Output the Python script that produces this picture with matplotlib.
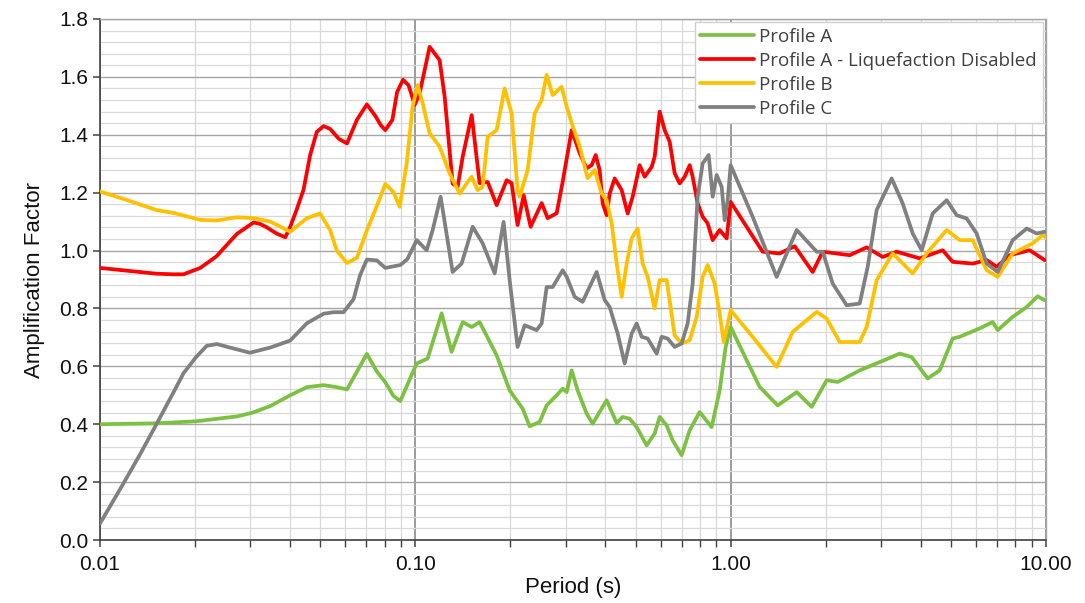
import matplotlib
matplotlib.use("Agg")
import matplotlib.pyplot as plt
from matplotlib.ticker import FixedLocator, FixedFormatter, LogLocator, MultipleLocator, NullFormatter

# ---------------- data ----------------
period_a = [0.01, 0.015, 0.0201, 0.0272, 0.0305, 0.0347, 0.0401, 0.0453, 0.0512, 0.0564, 0.0607, 0.0653, 0.0702,
            0.0755, 0.0803, 0.0852, 0.0896, 0.0952, 0.1010, 0.1094, 0.1212, 0.1303, 0.1413, 0.1509, 0.1599, 0.1811,
            0.1991, 0.2189, 0.2304, 0.2479, 0.2609, 0.2807, 0.2933, 0.3020, 0.3132, 0.3271, 0.3493, 0.3651,
            0.4043, 0.4350, 0.4545, 0.4784, 0.5034, 0.5415, 0.5741, 0.5954, 0.6266, 0.6547, 0.6992, 0.7413,
            0.7974, 0.8703, 0.9228, 0.9642, 1.0, 1.124, 1.236, 1.409, 1.620, 1.807, 2.016, 2.185, 2.566,
            3.034, 3.436, 3.751, 4.215, 4.601, 5.059, 5.324, 6.160, 6.776, 7.029, 7.842, 8.686, 9.413, 9.905]
amp_a = [0.40, 0.403, 0.41, 0.427, 0.44, 0.463, 0.50, 0.528, 0.535, 0.528, 0.52, 0.582, 0.643,
         0.582, 0.545, 0.498, 0.48, 0.546, 0.61, 0.627, 0.783, 0.65, 0.753, 0.736, 0.753, 0.638,
         0.517, 0.454, 0.393, 0.408, 0.465, 0.50, 0.523, 0.511, 0.586, 0.517, 0.437, 0.402,
         0.483, 0.404, 0.425, 0.419, 0.39, 0.327, 0.368, 0.425, 0.396, 0.344, 0.293, 0.379,
         0.442, 0.39, 0.517, 0.667, 0.736, 0.621, 0.529, 0.465, 0.511, 0.46, 0.552, 0.546, 0.586,
         0.619, 0.644, 0.632, 0.558, 0.586, 0.696, 0.702, 0.731, 0.753, 0.725, 0.771, 0.805, 0.842, 0.828]

period_a_noliq = [0.01, 0.0151, 0.0171, 0.0184, 0.0208, 0.0234, 0.0272, 0.0307, 0.0322, 0.0338, 0.0364, 0.0387,
                  0.0401, 0.042, 0.0442, 0.0464, 0.0487, 0.0512, 0.0537, 0.0572, 0.0607, 0.0653,
                  0.0702, 0.0748, 0.0776, 0.0803, 0.0846, 0.0875, 0.0914, 0.0952, 0.0995, 0.1032, 0.1110, 0.1194,
                  0.1239, 0.1313, 0.1362, 0.1413,
                  0.1509, 0.1599, 0.1696, 0.1811, 0.1948, 0.2020, 0.2110, 0.2206, 0.2321, 0.2515, 0.2628,
                  0.2807, 0.2933, 0.3132, 0.3319, 0.3493, 0.3624, 0.3732, 0.3842, 0.3927, 0.4043, 0.4133,
                  0.4287, 0.4512, 0.4714, 0.4889, 0.5145, 0.5337, 0.5617, 0.5741, 0.5954, 0.6176, 0.6405,
                  0.6643, 0.6891, 0.7147, 0.7413, 0.7578, 0.7858, 0.8150, 0.8453, 0.8768, 0.9228, 0.9712,
                  1.0, 1.263, 1.430, 1.596, 1.820, 1.958, 2.385, 2.700, 3.034, 3.361, 3.977, 4.702, 5.059,
                  5.853, 6.485, 6.977, 7.672, 8.878, 9.905]
amp_a_noliq = [0.94, 0.92, 0.918, 0.918, 0.94, 0.98, 1.058, 1.097, 1.092, 1.08, 1.058, 1.046,
               1.082, 1.14, 1.21, 1.33, 1.41, 1.43, 1.42, 1.386, 1.37, 1.452,
               1.505, 1.464, 1.434, 1.416, 1.452, 1.547, 1.59, 1.571, 1.503, 1.543, 1.704, 1.658,
               1.531, 1.231, 1.22, 1.324,
               1.468, 1.233, 1.237, 1.157, 1.243, 1.233, 1.088, 1.191, 1.082, 1.164, 1.112,
               1.129, 1.238, 1.416, 1.337, 1.284, 1.295, 1.33, 1.278, 1.163, 1.122, 1.197,
               1.249, 1.209, 1.128, 1.186, 1.295, 1.255, 1.289, 1.324, 1.48, 1.416, 1.376,
               1.267, 1.232, 1.255, 1.295, 1.255, 1.163, 1.117, 1.094, 1.036, 1.071, 1.042,
               1.168, 0.996, 0.99, 1.015, 0.926, 0.996, 0.984, 1.011, 0.978, 0.996, 0.973, 1.001, 0.961,
               0.955, 0.967, 0.944, 0.984, 1.001, 0.967]

period_b = [0.01, 0.0119, 0.0151, 0.0171, 0.0208, 0.0235, 0.0272, 0.0307, 0.0347, 0.0401, 0.0453, 0.0499,
            0.0537, 0.0564, 0.0607, 0.0653, 0.0702, 0.0755, 0.0803, 0.0852, 0.0892,
            0.0939, 0.0980, 0.1017, 0.1055, 0.1110, 0.1194, 0.1284, 0.1382, 0.1455, 0.1509, 0.1576, 0.1635,
            0.1696, 0.1811, 0.1919, 0.2020, 0.2110, 0.2142, 0.2271, 0.2390, 0.2515, 0.2609, 0.2726, 0.2911,
            0.3020, 0.3155, 0.3319, 0.3519, 0.3704, 0.3898, 0.4043, 0.4194, 0.4350, 0.4512, 0.4680, 0.4853,
            0.5070, 0.5259, 0.5455, 0.5741, 0.5954, 0.6266, 0.6643, 0.6992, 0.7413, 0.7802, 0.8150, 0.8453,
            0.8896, 0.9228, 0.9502, 1.0, 1.174, 1.399, 1.573, 1.874, 2.016, 2.217, 2.566, 2.700, 2.904,
            3.264, 3.779, 4.184, 4.842, 5.324, 5.853, 6.485, 7.029, 7.842, 9.075, 9.761, 10.0]
amp_b = [1.204, 1.178, 1.14, 1.13, 1.106, 1.104, 1.115, 1.112, 1.10, 1.065, 1.112, 1.128,
         1.07, 0.999, 0.957, 0.975, 1.07, 1.154, 1.23, 1.202, 1.151,
         1.301, 1.497, 1.572, 1.509, 1.405, 1.359, 1.267, 1.197, 1.232, 1.255, 1.209, 1.22,
         1.393, 1.416, 1.56, 1.474, 1.209, 1.186, 1.278, 1.474, 1.52, 1.607, 1.537, 1.566,
         1.497, 1.43, 1.36, 1.25, 1.278, 1.197, 1.174, 1.094, 0.955, 0.84, 0.955, 1.042,
         1.076, 0.955, 0.909, 0.80, 0.898, 0.898, 0.707, 0.679, 0.69, 0.771, 0.909, 0.95,
         0.886, 0.783, 0.684, 0.794, 0.702, 0.598, 0.719, 0.788, 0.765, 0.684, 0.684, 0.736, 0.898,
         0.99, 0.921, 0.99, 1.071, 1.036, 1.036, 0.932, 0.909, 0.99, 1.025, 1.053, 1.045]

period_c = [0.01, 0.0116, 0.0134, 0.0151, 0.0171, 0.0184, 0.0201, 0.0218, 0.0235, 0.0258, 0.0299, 0.0347,
            0.0401, 0.0453, 0.0512, 0.0551, 0.0592, 0.0637, 0.0668, 0.0702, 0.0755, 0.0803, 0.0896, 0.0943,
            0.1010, 0.1086, 0.1135, 0.1203, 0.1313, 0.1402, 0.1520, 0.1635, 0.1785, 0.1905, 0.1991, 0.2110,
            0.2222, 0.2425, 0.2515, 0.2609, 0.2726, 0.2933, 0.3020, 0.3202, 0.3393, 0.3758, 0.3985, 0.4133,
            0.4382, 0.4612, 0.4853, 0.5034, 0.5221, 0.5455, 0.5826, 0.6042, 0.6313, 0.6643, 0.6992, 0.7305,
            0.7578, 0.7858, 0.8150, 0.8516, 0.8768, 0.9029, 0.9364, 0.9572, 0.9784, 1.0, 1.174, 1.399,
            1.620, 1.874, 1.958, 2.106, 2.333, 2.566, 2.720, 2.904, 3.240, 3.511, 3.779, 4.035, 4.372,
            4.842, 5.209, 5.603, 6.027, 6.485, 7.029, 7.842, 8.686, 9.344, 9.905]
amp_c = [0.057, 0.177, 0.296, 0.40, 0.51, 0.576, 0.63, 0.671, 0.677, 0.665, 0.647, 0.665,
         0.689, 0.749, 0.782, 0.787, 0.787, 0.832, 0.915, 0.969, 0.966, 0.94, 0.95, 0.97,
         1.036, 1.001, 1.071, 1.186, 0.926, 0.955, 1.082, 1.025, 0.921, 1.099, 0.898, 0.667,
         0.742, 0.725, 0.748, 0.874, 0.874, 0.932, 0.909, 0.84, 0.823, 0.926, 0.829, 0.805,
         0.713, 0.61, 0.713, 0.748, 0.702, 0.696, 0.644, 0.702, 0.696, 0.667, 0.679, 0.748,
         0.886, 1.186, 1.301, 1.33, 1.186, 1.261, 1.22, 1.105, 1.174, 1.295, 1.117, 0.909,
         1.071, 0.996, 0.996, 0.886, 0.811, 0.817, 0.944, 1.14, 1.249, 1.163, 1.059, 1.001, 1.128,
         1.174, 1.122, 1.111, 1.059, 0.955, 0.926, 1.036, 1.076, 1.059, 1.065]

series_labels = ["Profile A", "Profile A - Liquefaction Disabled", "Profile B", "Profile C"]
series_colors = ["#7cc142", "#ff0000", "#ffc000", "#808080"]

x_ticks = [0.01, 0.1, 1.0, 10.0]
x_tick_labels = ["0.01", "0.10", "1.00", "10.00"]
y_ticks = [0.0, 0.2, 0.4, 0.6, 0.8, 1.0, 1.2, 1.4, 1.6, 1.8]
y_tick_labels = ["0.0", "0.2", "0.4", "0.6", "0.8", "1.0", "1.2", "1.4", "1.6", "1.8"]

# ---------------- plot ----------------
fig = plt.figure(figsize=(10.85, 6.03), dpi=100)
ax = fig.add_axes([100 / 1085, 63 / 603, 946 / 1085, 521 / 603])

ax.set_xscale("log")
ax.set_xlim(0.01, 10)
ax.set_ylim(0, 1.8)

# grid
ax.yaxis.set_minor_locator(MultipleLocator(0.04))
ax.xaxis.set_minor_locator(LogLocator(base=10, subs=range(2, 10), numticks=20))
ax.xaxis.set_minor_formatter(NullFormatter())
ax.grid(True, which="minor", axis="both", color="#d9d9d9", lw=0.9, zorder=0)
ax.grid(True, which="major", axis="y", color="#a6a6a6", lw=1.0, zorder=0)
ax.grid(True, which="major", axis="x", color="#808080", lw=1.1, zorder=0)
ax.set_axisbelow(True)

series = [(period_a, amp_a), (period_a_noliq, amp_a_noliq), (period_b, amp_b), (period_c, amp_c)]
order = [0, 3, 2, 1]
handles = {}
for i in order:
    p, a = series[i]
    h, = ax.plot(p, a, color=series_colors[i], lw=2.7, label=series_labels[i],
                 solid_joinstyle="round", solid_capstyle="round", zorder=3 + i)
    handles[i] = h

ax.xaxis.set_major_locator(FixedLocator(x_ticks))
ax.xaxis.set_major_formatter(FixedFormatter(x_tick_labels))
ax.yaxis.set_major_locator(FixedLocator(y_ticks))
ax.yaxis.set_major_formatter(FixedFormatter(y_tick_labels))

for s in ["top", "right"]:
    ax.spines[s].set_color("#a6a6a6")
    ax.spines[s].set_linewidth(1.0)
for s in ["left", "bottom"]:
    ax.spines[s].set_color("#404040")
    ax.spines[s].set_linewidth(1.2)

ax.tick_params(axis="both", which="major", direction="out", length=5, width=1.1,
               color="#404040", labelsize=15, labelcolor="#111111")
ax.tick_params(axis="x", which="minor", direction="out", length=5, width=1.0, color="#404040")
ax.tick_params(axis="y", which="minor", length=0)
ax.tick_params(axis="x", which="major", pad=6)
for lbl in ax.get_xticklabels() + ax.get_yticklabels():
    lbl.set_fontfamily("Liberation Sans")

ax.set_xlabel("Period (s)", fontsize=16, family="Liberation Sans", labelpad=2, color="#111111")
ax.set_ylabel("Amplification Factor", fontsize=16, family="Liberation Sans", labelpad=10, color="#111111")

leg = ax.legend([handles[i] for i in range(4)], series_labels, loc="upper right",
                bbox_to_anchor=(0.9965, 0.994), prop={"family": "Open Sans", "size": 13.5},
                frameon=True, fancybox=False, framealpha=1.0, edgecolor="#d0d0d0",
                handlelength=2.85, handletextpad=0.3, labelspacing=0.32, borderpad=0.3,
                borderaxespad=0.0)
leg.get_frame().set_linewidth(1.0)
for t in leg.get_texts():
    t.set_color("#404040")
leg.set_zorder(10)

fig.savefig("out.png", dpi=100)
